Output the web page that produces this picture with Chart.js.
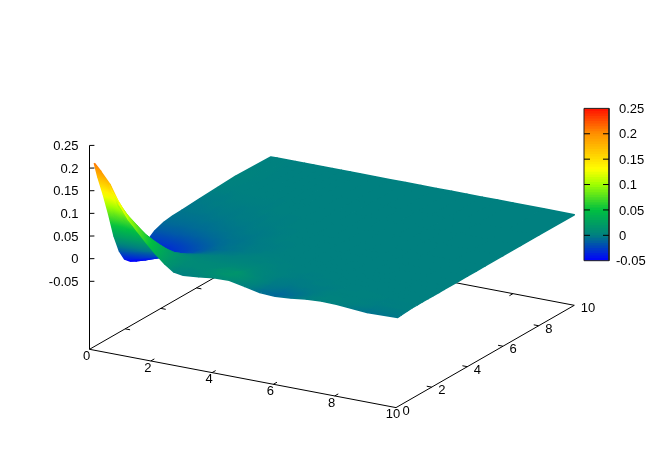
<!DOCTYPE html>
<html>
<head>
<meta charset="utf-8">
<style>
html, body { margin: 0; padding: 0; background: #fff; }
canvas { display: block; }
</style>
<script src="https://cdn.jsdelivr.net/npm/chart.js@4"></script>
</head>
<body>
<canvas id="surface" width="664" height="465"></canvas>
<script>
const gridX = [0.1, 0.3, 0.6, 0.9, 1.2, 1.5, 1.8, 2.1, 2.4, 2.7, 3, 3.5, 4, 4.5, 5, 5.5, 6, 6.5, 7, 7.5, 8, 9, 10];
const gridY = [0.1, 0.3, 0.6, 0.9, 1.2, 1.5, 1.8, 2.1, 2.4, 2.7, 3, 3.5, 4, 4.5, 5, 6, 7, 8, 10];

// z values, one row per gridY entry
const zY01 = [.210, .195, .170, .132, .101, .078, .056, .035, .017, .003, .000, .003, .007, .008, .001, -.006, -.008, -.005, -.001, .001, .000, -.005, -.003];
const zY03 = [.175, .165, .145, .115, .090, .070, .050, .031, .015, .005, .003, .006, .012, .016, .005, -.005, -.010, -.006, -.001, .002, .001, -.003, -.002];
const zY06 = [.130, .125, .110, .092, .074, .057, .041, .026, .014, .008, .007, .008, .013, .015, .006, -.003, -.006, -.004, -.001, .001, .001, -.001, -.001];
const zY09 = [.080, .078, .072, .062, .052, .041, .031, .021, .012, .008, .007, .007, .010, .010, .004, -.002, -.003, -.002, -.001, .001, .001, -.001, 0];
const zY12 = [.025, .026, .027, .026, .024, .021, .017, .012, .009, .007, .006, .006, .007, .007, .003, -.001, -.002, -.001, -.001, 0, .001, 0, 0];
const zY15 = [-.015, -.013, -.009, -.005, -.002, .001, .003, .004, .004, .004, .004, .004, .005, .005, .002, 0, -.001, -.001, 0, 0, 0, 0, 0];
const zY18 = [-.040, -.037, -.031, -.025, -.019, -.013, -.008, -.004, -.001, .001, .002, .002, .003, .003, .001, 0, -.001, 0, 0, 0, 0, 0, 0];
const zY21 = [-.051, -.048, -.042, -.035, -.028, -.022, -.016, -.010, -.006, -.003, -.001, .001, .002, .001, .001, 0, 0, 0, 0, 0, 0, 0, 0];
const zY24 = [-.052, -.049, -.044, -.038, -.032, -.026, -.020, -.014, -.009, -.005, -.003, -.001, .001, .001, 0, 0, 0, 0, 0, 0, 0, 0, 0];
const zY27 = [-.043, -.042, -.039, -.035, -.030, -.025, -.020, -.015, -.010, -.007, -.005, -.002, 0, 0, 0, 0, 0, 0, 0, 0, 0, 0, 0];
const zY30 = [-.031, -.031, -.030, -.028, -.025, -.021, -.017, -.013, -.009, -.006, -.004, -.002, -.001, 0, 0, 0, 0, 0, 0, 0, 0, 0, 0];
const zY35 = [-.016, -.016, -.016, -.015, -.014, -.012, -.010, -.008, -.006, -.005, -.004, -.002, -.001, 0, 0, 0, 0, 0, 0, 0, 0, 0, 0];
const zY40 = [-.009, -.009, -.009, -.009, -.008, -.007, -.006, -.005, -.004, -.003, -.003, -.001, 0, 0, 0, 0, 0, 0, 0, 0, 0, 0, 0];
const zY45 = [-.006, -.006, -.006, -.006, -.005, -.005, -.004, -.003, -.003, -.002, -.002, -.001, 0, 0, 0, 0, 0, 0, 0, 0, 0, 0, 0];
const zY50 = [-.005, -.004, -.004, -.004, -.003, -.003, -.002, -.002, -.002, -.001, -.001, 0, 0, 0, 0, 0, 0, 0, 0, 0, 0, 0, 0];
const zY60 = [-.002, -.002, -.002, -.001, -.001, -.001, -.001, -.001, 0, 0, 0, 0, 0, 0, 0, 0, 0, 0, 0, 0, 0, 0, 0];
const zY70 = [0, 0, 0, 0, 0, 0, 0, 0, 0, 0, 0, 0, 0, 0, 0, 0, 0, 0, 0, 0, 0, 0, 0];
const zY80 = [.002, .002, .001, 0, 0, 0, 0, 0, 0, 0, 0, 0, 0, 0, 0, 0, 0, 0, 0, 0, 0, 0, 0];
const zY100 = [0, 0, 0, 0, 0, 0, 0, 0, 0, 0, 0, 0, 0, 0, 0, 0, 0, 0, 0, 0, 0, 0, 0];
const zRows = [zY01, zY03, zY06, zY09, zY12, zY15, zY18, zY21, zY24, zY27, zY30, zY35, zY40, zY45, zY50, zY60, zY70, zY80, zY100];

const xTicks = [0, 2, 4, 6, 8, 10];
const yTicks = [0, 2, 4, 6, 8, 10];
const zTicks = [-0.05, 0, 0.05, 0.1, 0.15, 0.2, 0.25];
const zTickLabels = ['-0.05', '0', '0.05', '0.1', '0.15', '0.2', '0.25'];
const cbLevels = [-0.05, -0.045, -0.04, -0.035, -0.03, -0.025, -0.02, -0.015, -0.01, -0.005, 0, 0.005, 0.01, 0.015, 0.02, 0.025, 0.03, 0.035, 0.04, 0.045, 0.05, 0.055, 0.06, 0.065, 0.07, 0.075, 0.08, 0.085, 0.09, 0.095, 0.1, 0.105, 0.11, 0.115, 0.12, 0.125, 0.13, 0.135, 0.14, 0.145, 0.15, 0.155, 0.16, 0.165, 0.17, 0.175, 0.18, 0.185, 0.19, 0.195, 0.2, 0.205, 0.21, 0.215, 0.22, 0.225, 0.23, 0.235, 0.24, 0.245];

// palette stops: z value, r, g, b
const paletteZ = [-0.05, 0, 0.05, 0.1, 0.13, 0.2, 0.25];
const paletteR = [0, 0, 0, 160, 255, 255, 255];
const paletteG = [0, 128, 192, 255, 255, 144, 16];
const paletteB = [255, 128, 64, 0, 0, 0, 0];

const zFloor = -0.2;
const FONT = '13px "Liberation Sans", Arial, sans-serif';

const canvas = document.getElementById('surface');
const ctx = canvas.getContext('2d');

// gnuplot style view, maps x,y,z onto the flat scales of the chart
function view(x, y, z) {
    return {
        x: 89.5 + 30.65 * x + 17.83 * y,
        y: 258.7 + 5.83 * x - 10.23 * y - 453 * z
    };
}
function cbPos(x, z) {
    return { x: x, y: 260.7 - (z + 0.05) * 507.7 };
}
function color(z) {
    let i = 0;
    while (i < paletteZ.length - 2 && z > paletteZ[i + 1]) i++;
    const t = Math.max(0, Math.min(1, (z - paletteZ[i]) / (paletteZ[i + 1] - paletteZ[i])));
    const mix = a => Math.round(a[i] + (a[i + 1] - a[i]) * t);
    return `rgb(${mix(paletteR)},${mix(paletteG)},${mix(paletteB)})`;
}

// quad colour: screen space gradient following the slope of z over the quad
function quadPaint(p, z) {
    const ux = p[2].x - p[0].x, uy = p[2].y - p[0].y, vx = p[3].x - p[1].x, vy = p[3].y - p[1].y;
    const dzu = z[2] - z[0], dzv = z[3] - z[1];
    const det = ux * vy - uy * vx;
    const zMean = (z[0] + z[1] + z[2] + z[3]) / 4;
    const zMin = Math.min(...z), zMax = Math.max(...z);
    if (Math.abs(det) < 1 || zMax - zMin < 1e-6) return color(zMean);
    const gx = (dzu * vy - dzv * uy) / det, gy = (ux * dzv - vx * dzu) / det;
    const len = Math.hypot(gx, gy);
    if (len < 1e-9) return color(zMean);
    const cx = (p[0].x + p[2].x) / 2, cy = (p[0].y + p[2].y) / 2;
    const ts = p.map(q => ((q.x - cx) * gx + (q.y - cy) * gy) / len);
    const t0 = Math.min(...ts), t1 = Math.max(...ts);
    const g = ctx.createLinearGradient(cx + gx / len * t0, cy + gy / len * t0, cx + gx / len * t1, cy + gy / len * t1);
    const zc = (z[0] + z[2]) / 2;
    [0, 0.25, 0.5, 0.75, 1].forEach(s => {
        const zs = zc + len * (t0 + (t1 - t0) * s);
        g.addColorStop(s, color(Math.max(zMin, Math.min(zMax, zs))));
    });
    return g;
}

const datasets = [];
function addLine(points, col) {
    datasets.push({ data: points, showLine: true, fill: false, borderColor: col, borderWidth: 1, pointRadius: 0 });
}
function addPoly(points, col, bw) {
    datasets.push({
        data: points.concat([points[0]]), showLine: true, fill: 'shape', backgroundColor: col,
        borderColor: col, borderWidth: bw, pointRadius: 0, borderJoinStyle: 'round'
    });
}

// back axes first, the surface covers part of them
addLine([view(0, 0, zFloor), view(0, 10, zFloor)], '#000');
addLine([view(0, 10, zFloor), view(10, 10, zFloor)], '#000');
yTicks.slice(1, -1).forEach(t => addLine([view(0, t, zFloor), view(0.16, t, zFloor)], '#000'));
xTicks.slice(1, -1).forEach(t => addLine([view(t, 10, zFloor), view(t, 9.8, zFloor)], '#000'));

// surface, far quads first; wide border closes the seams
for (let j = gridY.length - 2; j >= 0; j--) {
    for (let i = 0; i < gridX.length - 1; i++) {
        const z = [zRows[j][i], zRows[j][i + 1], zRows[j + 1][i + 1], zRows[j + 1][i]];
        const p = [
            view(gridX[i], gridY[j], z[0]), view(gridX[i + 1], gridY[j], z[1]),
            view(gridX[i + 1], gridY[j + 1], z[2]), view(gridX[i], gridY[j + 1], z[3])
        ];
        addPoly(p, quadPaint(p, z), 1.6);
    }
}

// front axes
addLine([view(0, 0, zFloor), view(10, 0, zFloor)], '#000');
addLine([view(10, 0, zFloor), view(10, 10, zFloor)], '#000');
addLine([view(0, 0, zFloor), view(0, 0, 0.25)], '#000');
xTicks.slice(1, -1).forEach(t => addLine([view(t, 0, zFloor), view(t, 0.2, zFloor)], '#000'));
yTicks.slice(1, -1).forEach(t => addLine([view(10, t, zFloor), view(9.84, t, zFloor)], '#000'));
zTicks.forEach(t => addLine([view(0, 0, t), view(0.16, 0, t + 0.0022)], '#000'));

// colour box, each band runs under the next one so no seams show
cbLevels.forEach(z => {
    const top = Math.min(z + 0.01, 0.25);
    addPoly([cbPos(584, z), cbPos(609, z), cbPos(609, top), cbPos(584, top)], color(z + 0.0025), 0);
});
addPoly([cbPos(584, -0.05), cbPos(584, 0.25), cbPos(609, 0.25), cbPos(609, -0.05)], 'rgba(0,0,0,0)', 1);
datasets[datasets.length - 1].borderColor = '#222';
zTicks.slice(1, -1).forEach(t => {
    addLine([cbPos(584, t), cbPos(590, t)], '#000');
    addLine([cbPos(603, t), cbPos(609, t)], '#000');
});

// later entries paint over earlier ones
datasets.forEach((d, i) => { d.order = datasets.length - i; });

const tickText = {
    id: 'tickText',
    afterDraw(chart) {
        const { ctx, scales } = chart;
        const put = (text, p, dx, dy, align) => {
            ctx.textAlign = align;
            ctx.fillText(text, scales.x.getPixelForValue(p.x) + dx, scales.y.getPixelForValue(p.y) + dy);
        };
        ctx.save();
        ctx.font = FONT;
        ctx.fillStyle = '#000';
        ctx.textBaseline = 'middle';
        zTicks.forEach((t, i) => put(zTickLabels[i], view(0, 0, t), -11, 1, 'right'));
        xTicks.forEach(t => put(String(t), view(t, 0, zFloor), -3, 7, 'center'));
        yTicks.forEach(t => put(String(t), view(10, t, zFloor), 6.5, 3.5, 'left'));
        zTicks.forEach((t, i) => put(zTickLabels[i], cbPos(619, t), t < 0 ? -3 : 0, 1, 'left'));
        ctx.restore();
    }
};

new Chart(ctx, {
    type: 'scatter',
    data: { datasets: datasets },
    plugins: [tickText],
    options: {
        responsive: false,
        animation: false,
        events: [],
        layout: { padding: 0 },
        plugins: { legend: { display: false }, tooltip: { enabled: false } },
        scales: {
            x: { type: 'linear', min: 0, max: 664, display: false },
            y: { type: 'linear', min: 0, max: 465, reverse: true, display: false }
        }
    }
});
</script>
</body>
</html>
